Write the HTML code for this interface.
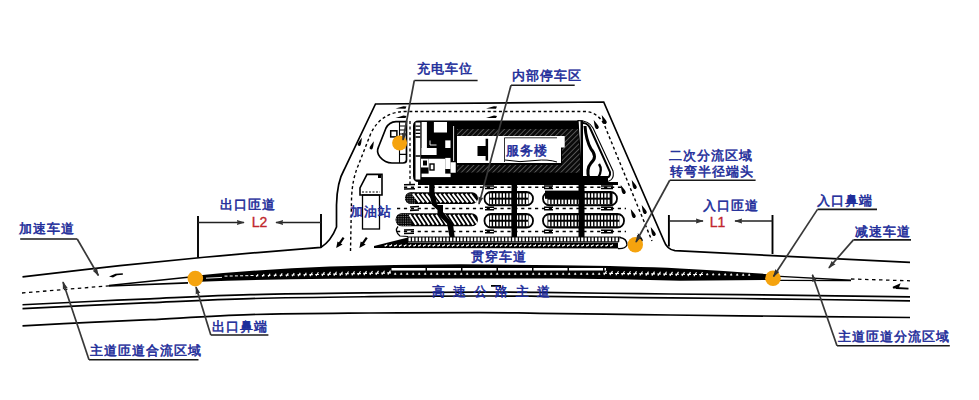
<!DOCTYPE html>
<html><head><meta charset="utf-8">
<style>
html,body{margin:0;padding:0;background:#fff;width:979px;height:400px;overflow:hidden}
svg{position:absolute;left:0;top:0}
.lb{font-family:"Liberation Sans",sans-serif;font-size:13px;fill:#1e2d9a;stroke:#1e2d9a;stroke-width:0.55px;font-weight:normal;letter-spacing:1px}
.rd{font-family:"Liberation Sans",sans-serif;font-size:14px;fill:#c0262c;stroke:#c0262c;stroke-width:0.35px}
</style></head><body>
<svg width="979" height="400" viewBox="0 0 979 400">
<defs>
<pattern id="hatch" patternUnits="userSpaceOnUse" width="3.7" height="3.7" patternTransform="rotate(45)">
<rect width="3.7" height="3.7" fill="#0a0a0a"/><rect width="0.7" height="3.7" fill="#707070"/>
</pattern>
<pattern id="xh" patternUnits="userSpaceOnUse" width="1.8" height="1.8"><rect width="1.8" height="1.8" fill="#000"/><rect width="0.8" height="0.8" fill="#aaa"/></pattern>
<marker id="ah" viewBox="0 0 10 10" refX="9" refY="5" markerWidth="8" markerHeight="6" markerUnits="userSpaceOnUse" orient="auto" preserveAspectRatio="none">
<path d="M0,0.8 L10,5 L0,9.2 L1,5 z" fill="#333"/>
</marker>
</defs>

<g fill="none" stroke="#000" stroke-width="1.7">
<path d="M22.5,276.8 C38.8,274.95 87.1,269.20 120,265.7 C152.9,262.20 186.5,258.85 220,255.8 C253.5,252.75 304.2,248.80 321,247.4 Q331,241 336.5,227 L336.5,205 Q337,182 344,170 L375.5,104 L603.7,102 L664,241 Q667,249.5 675,250.7 L910,262.4"/>
<path d="M22.5,304.75 C34.6,304.17 73.8,302.24 95,301.25 C116.2,300.26 124.2,299.89 150,298.8 C175.8,297.71 213.3,295.70 250,294.7 C286.7,293.70 331.7,293.23 370,292.8 C408.3,292.37 451.7,292.17 480,292.1 C508.3,292.03 513.3,292.13 540,292.4 C566.7,292.67 606.7,293.33 640,293.7 C673.3,294.07 695.0,294.07 740,294.6 C785.0,295.13 881.7,296.52 910,296.9"/>
<path d="M22.5,308.65 C34.6,308.07 73.8,306.14 95,305.15 C116.2,304.16 124.2,303.79 150,302.7 C175.8,301.61 213.3,299.60 250,298.59999999999997 C286.7,297.60 331.7,297.13 370,296.7 C408.3,296.27 451.7,296.07 480,296.0 C508.3,295.93 513.3,296.03 540,296.29999999999995 C566.7,296.57 606.7,297.23 640,297.59999999999997 C673.3,297.97 695.0,297.97 740,298.5 C785.0,299.03 881.7,300.42 910,300.79999999999995"/>
<path d="M22.5,325.9 C34.6,325.27 73.8,323.13 95,322.1 C116.2,321.07 124.2,320.95 150,319.7 C175.8,318.45 213.3,315.72 250,314.6 C286.7,313.48 331.7,313.33 370,313 C408.3,312.67 451.7,312.55 480,312.6 C508.3,312.65 513.3,312.97 540,313.3 C566.7,313.63 606.7,314.18 640,314.6 C673.3,315.02 695.0,315.32 740,315.8 C785.0,316.28 881.7,317.22 910,317.5"/>
<path d="M22,293 L109,285.8" stroke-dasharray="3.5 3.5" stroke-width="1.3"/>
<path d="M109,285.6 L188,277.2" stroke-width="1.5"/>
<path d="M109,286 L188,282.8" stroke-width="1.7"/>
<path d="M780,276.4 L851,280.2" stroke-width="1.4"/>
<path d="M780,280.4 L851,280.6" stroke-width="1.4"/>
<path d="M851,279 L910,280.8" stroke-dasharray="3.5 3.5" stroke-width="1.3"/>
</g>
<path d="M109,276.6 L115.5,273.8 L122.8,273.2 L122.9,274.8 L117,275.3 L113,277.4 Z" fill="#000"/>
<path d="M893,287.5 L899,285 L898,287.5 Z M896,288 L908.5,288.6" fill="#000" stroke="#000" stroke-width="1.8"/>
<path d="M491,285.8 L500,285.8 L500,288" fill="none" stroke="#000" stroke-width="1.8"/>
<path d="M190,277 L200,275.2 Q265,269 330,266.6 Q395,264.4 460,264.3 L560,265.3 Q630,266.2 680,268.4 Q730,271 772,274.5 L772,280 L680,280.7 Q620,279 560,278.6 L460,278.6 L330,278.7 Q260,279.5 200,281.8 L190,281 Z" fill="#000"/>
<g stroke="#fff"><path d="M206,278.2 L222,277.4" stroke="#fff" stroke-width="0.9"/><path d="M224.5,276.1 L227.5,276.1" stroke-width="1"/><path d="M229.7,276.0 L232.7,276.0" stroke-width="1"/><path d="M234.9,275.9 L237.9,275.9" stroke-width="1"/><path d="M240.1,275.8 L243.1,275.8" stroke-width="1"/><path d="M245.3,275.7 L248.3,275.7" stroke-width="1"/><path d="M250.5,275.5 L253.5,275.5" stroke-width="1"/><path d="M256.4,276.7 L258.0,274.2 M255.9,275.7 L258.3,275.7" stroke-width="1.1"/><path d="M262.3,276.6 L264.1,274.0 M261.9,275.6 L264.4,275.6" stroke-width="1.1"/><path d="M268.3,276.6 L270.1,273.8 M267.8,275.5 L270.4,275.5" stroke-width="1.1"/><path d="M274.3,276.5 L276.1,273.6 M273.8,275.4 L276.5,275.4" stroke-width="1.1"/><path d="M280.2,276.4 L282.2,273.4 M279.7,275.2 L282.5,275.2" stroke-width="1.1"/><path d="M286.2,276.4 L288.2,273.2 M285.6,275.1 L288.6,275.1" stroke-width="1.1"/><path d="M292.2,276.3 L294.2,273.1 M291.6,275.0 L294.7,275.0" stroke-width="1.1"/><path d="M298.1,276.2 L300.3,272.9 M297.5,274.8 L300.7,274.8" stroke-width="1.1"/><path d="M304.1,276.2 L306.3,272.7 M303.5,274.7 L306.8,274.7" stroke-width="1.1"/><path d="M310.0,276.1 L312.4,272.5 M309.4,274.6 L312.8,274.6" stroke-width="1.1"/><path d="M316.0,276.0 L318.4,272.3 M315.3,274.5 L318.9,274.5" stroke-width="1.1"/><path d="M322.0,276.0 L324.4,272.1 M321.3,274.3 L324.9,274.3" stroke-width="1.1"/><path d="M327.9,275.9 L330.5,271.9 M327.2,274.2 L331.0,274.2" stroke-width="1.1"/><path d="M333.9,275.8 L336.5,271.8 M333.2,274.1 L337.0,274.1" stroke-width="1.1"/><path d="M339.9,275.7 L342.5,271.7 M339.2,274.0 L343.0,274.0" stroke-width="1.1"/><path d="M345.9,275.5 L348.5,271.5 M345.2,273.8 L349.0,273.8" stroke-width="1.1"/><path d="M351.9,275.4 L354.5,271.4 M351.2,273.7 L355.0,273.7" stroke-width="1.1"/><path d="M357.9,275.3 L360.5,271.3 M357.2,273.6 L361.0,273.6" stroke-width="1.1"/><path d="M363.9,275.1 L366.5,271.1 M363.2,273.4 L367.0,273.4" stroke-width="1.1"/><path d="M369.9,275.0 L372.5,271.0 M369.2,273.3 L373.0,273.3" stroke-width="1.1"/><path d="M375.9,274.9 L378.5,270.9 M375.2,273.2 L379.0,273.2" stroke-width="1.1"/><path d="M381.9,274.8 L384.5,270.8 M381.2,273.1 L385.0,273.1" stroke-width="1.1"/><path d="M387.9,274.6 L390.5,270.6 M387.2,272.9 L391.0,272.9" stroke-width="1.1"/><path d="M394.3,274.4 L396.1,274.4 L395.2,272.8 Z" fill="#fff" stroke-width="0.6"/><path d="M400.3,274.4 L402.1,274.4 L401.2,272.8 Z" fill="#fff" stroke-width="0.6"/><path d="M406.3,274.4 L408.1,274.4 L407.2,272.8 Z" fill="#fff" stroke-width="0.6"/><path d="M412.3,274.4 L414.1,274.4 L413.2,272.8 Z" fill="#fff" stroke-width="0.6"/><path d="M418.3,274.4 L420.1,274.4 L419.2,272.8 Z" fill="#fff" stroke-width="0.6"/><path d="M424.3,274.4 L426.1,274.4 L425.2,272.8 Z" fill="#fff" stroke-width="0.6"/><path d="M430.3,274.4 L432.1,274.4 L431.2,272.8 Z" fill="#fff" stroke-width="0.6"/><path d="M436.3,274.4 L438.1,274.4 L437.2,272.8 Z" fill="#fff" stroke-width="0.6"/><path d="M442.3,274.4 L444.1,274.4 L443.2,272.8 Z" fill="#fff" stroke-width="0.6"/><path d="M448.3,274.4 L450.1,274.4 L449.2,272.8 Z" fill="#fff" stroke-width="0.6"/><path d="M454.3,274.4 L456.1,274.4 L455.2,272.8 Z" fill="#fff" stroke-width="0.6"/><path d="M460.3,274.4 L462.1,274.4 L461.2,272.8 Z" fill="#fff" stroke-width="0.6"/><path d="M466.3,274.4 L468.1,274.4 L467.2,272.8 Z" fill="#fff" stroke-width="0.6"/><path d="M472.3,274.4 L474.1,274.4 L473.2,272.8 Z" fill="#fff" stroke-width="0.6"/><path d="M478.3,274.4 L480.1,274.4 L479.2,272.8 Z" fill="#fff" stroke-width="0.6"/><path d="M484.3,274.4 L486.1,274.4 L485.2,272.8 Z" fill="#fff" stroke-width="0.6"/><path d="M490.3,274.4 L492.1,274.4 L491.2,272.8 Z" fill="#fff" stroke-width="0.6"/><path d="M496.3,274.4 L498.1,274.4 L497.2,272.8 Z" fill="#fff" stroke-width="0.6"/><path d="M502.3,274.4 L504.1,274.4 L503.2,272.8 Z" fill="#fff" stroke-width="0.6"/><path d="M508.3,274.4 L510.1,274.4 L509.2,272.8 Z" fill="#fff" stroke-width="0.6"/><path d="M514.3,274.4 L516.1,274.4 L515.2,272.8 Z" fill="#fff" stroke-width="0.6"/><path d="M520.3,274.4 L522.1,274.4 L521.2,272.8 Z" fill="#fff" stroke-width="0.6"/><path d="M526.3,274.4 L528.1,274.4 L527.2,272.8 Z" fill="#fff" stroke-width="0.6"/><path d="M532.3,274.4 L534.1,274.4 L533.2,272.8 Z" fill="#fff" stroke-width="0.6"/><path d="M538.3,274.4 L540.1,274.4 L539.2,272.8 Z" fill="#fff" stroke-width="0.6"/><path d="M544.3,274.4 L546.1,274.4 L545.2,272.8 Z" fill="#fff" stroke-width="0.6"/><path d="M550.3,274.4 L552.1,274.4 L551.2,272.8 Z" fill="#fff" stroke-width="0.6"/><path d="M556.3,274.4 L558.1,274.4 L557.2,272.8 Z" fill="#fff" stroke-width="0.6"/><path d="M562.3,274.4 L564.1,274.4 L563.2,272.8 Z" fill="#fff" stroke-width="0.6"/><path d="M568.3,274.4 L570.1,274.4 L569.2,272.8 Z" fill="#fff" stroke-width="0.6"/><path d="M574.3,274.4 L576.1,274.4 L575.2,272.8 Z" fill="#fff" stroke-width="0.6"/><path d="M580.3,274.4 L582.1,274.4 L581.2,272.8 Z" fill="#fff" stroke-width="0.6"/><path d="M586.3,274.4 L588.1,274.4 L587.2,272.8 Z" fill="#fff" stroke-width="0.6"/><path d="M592.3,274.4 L594.1,274.4 L593.2,272.8 Z" fill="#fff" stroke-width="0.6"/><path d="M598.3,274.4 L600.1,274.4 L599.2,272.8 Z" fill="#fff" stroke-width="0.6"/><path d="M603.9,275.0 L606.5,271.0 M603.2,273.3 L607.0,273.3" stroke-width="1.1"/><path d="M609.9,275.1 L612.5,271.1 M609.2,273.4 L613.0,273.4" stroke-width="1.1"/><path d="M615.9,275.2 L618.5,271.2 M615.2,273.5 L619.0,273.5" stroke-width="1.1"/><path d="M621.9,275.3 L624.5,271.3 M621.2,273.6 L625.0,273.6" stroke-width="1.1"/><path d="M627.9,275.3 L630.5,271.3 M627.2,273.6 L631.0,273.6" stroke-width="1.1"/><path d="M633.9,275.4 L636.5,271.4 M633.2,273.7 L637.0,273.7" stroke-width="1.1"/><path d="M639.9,275.5 L642.5,271.5 M639.2,273.8 L643.0,273.8" stroke-width="1.1"/><path d="M645.9,275.6 L648.5,271.6 M645.2,273.9 L649.0,273.9" stroke-width="1.1"/><path d="M651.9,275.6 L654.5,271.6 M651.2,273.9 L655.0,273.9" stroke-width="1.1"/><path d="M657.9,275.7 L660.5,271.7 M657.2,274.0 L661.0,274.0" stroke-width="1.1"/><path d="M663.9,275.8 L666.5,271.8 M663.2,274.1 L667.0,274.1" stroke-width="1.1"/><path d="M669.9,275.9 L672.5,271.9 M669.2,274.2 L673.0,274.2" stroke-width="1.1"/><path d="M675.9,275.9 L678.5,271.9 M675.2,274.2 L679.0,274.2" stroke-width="1.1"/><path d="M681.9,276.0 L684.5,272.0 M681.2,274.3 L685.0,274.3" stroke-width="1.1"/><path d="M687.9,276.1 L690.5,272.1 M687.2,274.4 L691.0,274.4" stroke-width="1.1"/><path d="M693.9,276.2 L696.5,272.2 M693.2,274.5 L697.0,274.5" stroke-width="1.1"/><path d="M699.9,276.2 L702.5,272.2 M699.2,274.5 L703.0,274.5" stroke-width="1.1"/><path d="M706.3,274.9 L708.1,274.9 L707.2,273.3 Z" fill="#fff" stroke-width="0.6"/><path d="M712.3,275.0 L714.1,275.0 L713.2,273.4 Z" fill="#fff" stroke-width="0.6"/><path d="M718.3,275.1 L720.1,275.1 L719.2,273.5 Z" fill="#fff" stroke-width="0.6"/><path d="M724.3,275.1 L726.1,275.1 L725.2,273.5 Z" fill="#fff" stroke-width="0.6"/><path d="M730.3,275.2 L732.1,275.2 L731.2,273.6 Z" fill="#fff" stroke-width="0.6"/><path d="M736.3,275.3 L738.1,275.3 L737.2,273.7 Z" fill="#fff" stroke-width="0.6"/><path d="M742.3,275.4 L744.1,275.4 L743.2,273.8 Z" fill="#fff" stroke-width="0.6"/><path d="M748.3,275.4 L750.1,275.4 L749.2,273.8 Z" fill="#fff" stroke-width="0.6"/></g>
<path d="M391.5,269.3 L606,269.3" stroke="#fff" stroke-width="2.6" stroke-dasharray="34 1.5"/>
<g fill="none" stroke="#000" stroke-width="1.4" stroke-dasharray="3 2.6">
<path d="M350.5,251 L351.5,200 Q352,180 358,166 L371,133 Q382,111 407,111.5 L585,111.5 Q597,112 604,124 L652,241"/>
</g>
<path d="M0,-5 C0.8,-2.5 1.8,0.5 1.8,2 A1.8,1.8 0 0 1 -1.8,2 C-1.8,0.5 -0.8,-2.5 0,-5 Z" transform="translate(596 125) rotate(-24) scale(1.00 1.12)" fill="#000"/>
<path d="M0,-5 C0.8,-2.5 1.8,0.5 1.8,2 A1.8,1.8 0 0 1 -1.8,2 C-1.8,0.5 -0.8,-2.5 0,-5 Z" transform="translate(604 120) rotate(-24) scale(1.00 1.12)" fill="#000"/>
<path d="M0,-5 C0.8,-2.5 1.8,0.5 1.8,2 A1.8,1.8 0 0 1 -1.8,2 C-1.8,0.5 -0.8,-2.5 0,-5 Z" transform="translate(623 190) rotate(-24) scale(1.00 1.12)" fill="#000"/>
<path d="M0,-5 C0.8,-2.5 1.8,0.5 1.8,2 A1.8,1.8 0 0 1 -1.8,2 C-1.8,0.5 -0.8,-2.5 0,-5 Z" transform="translate(634 185) rotate(-24) scale(1.00 1.12)" fill="#000"/>
<path d="M0,-5 C0.8,-2.5 1.8,0.5 1.8,2 A1.8,1.8 0 0 1 -1.8,2 C-1.8,0.5 -0.8,-2.5 0,-5 Z" transform="translate(633 214) rotate(-24) scale(1.00 1.12)" fill="#000"/>
<path d="M0,-5 C0.8,-2.5 1.8,0.5 1.8,2 A1.8,1.8 0 0 1 -1.8,2 C-1.8,0.5 -0.8,-2.5 0,-5 Z" transform="translate(644 210) rotate(-24) scale(1.00 1.12)" fill="#000"/>
<path d="M0,-5 C0.8,-2.5 1.8,0.5 1.8,2 A1.8,1.8 0 0 1 -1.8,2 C-1.8,0.5 -0.8,-2.5 0,-5 Z" transform="translate(640 238) rotate(-24) scale(1.00 1.12)" fill="#000"/>
<path d="M0,-5 C0.8,-2.5 1.8,0.5 1.8,2 A1.8,1.8 0 0 1 -1.8,2 C-1.8,0.5 -0.8,-2.5 0,-5 Z" transform="translate(653 232) rotate(-24) scale(1.00 1.12)" fill="#000"/>
<path d="M395.5,108.6 L403.5,106.2 L406.5,106.6 L405.5,108.7 Z" fill="#000"/>
<path d="M395.5,118.0 L403.5,115.60000000000001 L406.5,116.0 L405.5,118.10000000000001 Z" fill="#000"/>
<path d="M486,108.6 L494,106.2 L497,106.6 L496,108.7 Z" fill="#000"/>
<path d="M486,118.0 L494,115.60000000000001 L497,116.0 L496,118.10000000000001 Z" fill="#000"/>
<path d="M0,-5 C0.8,-2.5 1.8,0.5 1.8,2 A1.8,1.8 0 0 1 -1.8,2 C-1.8,0.5 -0.8,-2.5 0,-5 Z" transform="translate(360 142.3) rotate(22) scale(0.89 1.00)" fill="#000"/><path d="M0,-5 C0.8,-2.5 1.8,0.5 1.8,2 A1.8,1.8 0 0 1 -1.8,2 C-1.8,0.5 -0.8,-2.5 0,-5 Z" transform="translate(372 145.8) rotate(22) scale(0.89 1.00)" fill="#000"/>
<path d="M343.6,237.6 L339.5,243.5" stroke="#000" stroke-width="2.2"/><path d="M336.2,248 L337.5,241.5 L342.5,244.5 Z" fill="#000"/>
<path d="M366.8,237.6 L362.7,243.5" stroke="#000" stroke-width="2.2"/><path d="M359.4,248 L360.7,241.5 L365.7,244.5 Z" fill="#000"/>
<path d="M396,121.6 L406.5,121.6 L406.5,160 Q406.5,163 403,163 L392,163 Q385,163 380,157 Q376,152 378.5,147 L386,128 Q389,122 396,121.6 Z" fill="#fff" stroke="#000" stroke-width="1.7"/>
<rect x="390.7" y="130.8" width="6.2" height="6.1" fill="#fff" stroke="#000" stroke-width="1.5"/>
<path d="M399.5,122 L399.5,163 M399.5,126 L406,126 M399.5,130 L406,130 M399.5,134 L406,134 M399.5,154.4 L406,154.4" stroke="#000" stroke-width="1.1"/>
<path d="M410,121 L410,186" stroke="#000" stroke-width="1.3" stroke-dasharray="3 2.5"/>
<path d="M418.5,120.5 L582,120.5 L582,182 L418.5,182 Q413,182 413,176 L413,126 Q413,120.5 418.5,120.5 Z" fill="#000"/>
<rect x="457" y="129" width="123" height="7" fill="url(#hatch)"/>
<rect x="562" y="129" width="18" height="43.5" fill="url(#hatch)"/>
<rect x="457" y="165" width="123" height="7.5" fill="url(#hatch)"/>
<rect x="457" y="136" width="107.7" height="11.5" fill="#fff"/><rect x="457" y="136" width="104" height="27" fill="#fff"/>
<rect x="477.5" y="146" width="10.5" height="10" fill="#000"/><rect x="485.6" y="138.75" width="2.5" height="21.9" fill="#000"/>
<path d="M504.5,162 L504.5,137.8 L557,137.8" fill="none" stroke="#000" stroke-width="0.8"/>
<path d="M505,160 Q520,163 535,160.5 Q548,159 557,162" fill="none" stroke="#000" stroke-width="1"/>
<rect x="415.5" y="122.5" width="4.8" height="57" fill="#fff"/>
<rect x="421.6" y="122" width="5.3" height="33" fill="#fff"/>
<rect x="421.6" y="148" width="15" height="7" fill="#fff"/>
<rect x="433.9" y="122" width="13.1" height="10.5" fill="#fff"/>
<rect x="445.25" y="140.4" width="5.25" height="7.6" fill="#fff"/>
<rect x="421" y="158.75" width="7.6" height="8.7" fill="#fff"/>
<rect x="428.6" y="158.75" width="16.6" height="15.75" fill="#fff"/>
<rect x="445.25" y="157.9" width="5.25" height="11.1" fill="#fff"/>
<rect x="450.5" y="162.25" width="5.25" height="10.5" fill="#fff"/>
<rect x="421.6" y="173.6" width="29" height="3.5" fill="#fff"/>
<path d="M415.5,126.2 L420.3,126.2 M415.5,130 L420.3,130 M415.5,133.3 L420.3,133.3 M415.5,137 L420.3,137 M415.5,156 L420.3,156" stroke="#000" stroke-width="1.3"/>
<rect x="423" y="160.5" width="4" height="5" fill="#000"/><rect x="430" y="164" width="4" height="6" fill="none" stroke="#000" stroke-width="1.4"/>
<path d="M453.6,126 L453.6,161" stroke="#fff" stroke-width="0.9"/>
<path d="M430,140.5 L430,145 L436.5,145" fill="none" stroke="#fff" stroke-width="0.9"/>
<path d="M578,120.5 Q589,120.5 593,128 L613,171 Q615,181 605,182 L582,182 Z" fill="#fff" stroke="#000" stroke-width="1.1"/>
<path d="M583,123 Q588,123 590.5,129 L610,172 Q611,178 604,178.5 L583,178.5" fill="none" stroke="#000" stroke-width="2"/>
<path d="M585,126 Q586,140 591,149 Q598,157 591,163 Q586,169 589,179" fill="none" stroke="#000" stroke-width="3"/>
<path d="M599,164 Q603,170 598,178" fill="none" stroke="#000" stroke-width="2.4"/>
<rect x="580.5" y="120.5" width="2.5" height="61.5" fill="#000"/>
<rect x="583" y="176" width="25" height="6" fill="#000"/>
<g stroke="#000" stroke-width="1.4" stroke-dasharray="3.2 3.7" fill="none"><path d="M404,187.3 L622,187.3"/><path d="M397,208.5 L626,208.5"/><path d="M397,231.5 L626,231.5"/></g>
<rect x="418" y="182" width="200" height="3" fill="#000"/>
<clipPath id="c1"><rect x="405" y="192.3" width="73" height="11.699999999999989" rx="5.849999999999994"/></clipPath><rect x="405" y="192.3" width="73" height="11.699999999999989" rx="5.849999999999994" fill="#000"/><rect x="405" y="192.3" width="10" height="11.699999999999989" fill="url(#xh)" clip-path="url(#c1)"/><path d="M413.0,193.9 L419.5,202.4 M417.4,193.9 L423.9,202.4 M421.8,193.9 L428.3,202.4 M426.2,193.9 L432.7,202.4 M430.6,193.9 L437.1,202.4 M435.0,193.9 L441.5,202.4 M439.4,193.9 L445.9,202.4 M443.8,193.9 L450.3,202.4 M448.2,193.9 L454.7,202.4 M452.6,193.9 L459.1,202.4 M457.0,193.9 L463.5,202.4 M461.4,193.9 L467.9,202.4 M465.8,193.9 L472.3,202.4 M470.2,193.9 L476.7,202.4" stroke="#fff" stroke-width="2" clip-path="url(#c1)"/>
<clipPath id="c2"><rect x="395.6" y="213.2" width="82.39999999999998" height="13.100000000000023" rx="6.550000000000011"/></clipPath><rect x="395.6" y="213.2" width="82.39999999999998" height="13.100000000000023" rx="6.550000000000011" fill="#000"/><rect x="395.6" y="213.2" width="16" height="13.100000000000023" fill="url(#xh)" clip-path="url(#c2)"/><path d="M409.6,214.79999999999998 L416.1,224.70000000000002 M414.0,214.79999999999998 L420.5,224.70000000000002 M418.4,214.79999999999998 L424.9,224.70000000000002 M422.8,214.79999999999998 L429.3,224.70000000000002 M427.2,214.79999999999998 L433.7,224.70000000000002 M431.6,214.79999999999998 L438.1,224.70000000000002 M436.0,214.79999999999998 L442.5,224.70000000000002 M440.4,214.79999999999998 L446.9,224.70000000000002 M444.8,214.79999999999998 L451.3,224.70000000000002 M449.2,214.79999999999998 L455.7,224.70000000000002 M453.6,214.79999999999998 L460.1,224.70000000000002 M458.0,214.79999999999998 L464.5,224.70000000000002 M462.4,214.79999999999998 L468.9,224.70000000000002 M466.8,214.79999999999998 L473.3,224.70000000000002 M471.2,214.79999999999998 L477.7,224.70000000000002" stroke="#fff" stroke-width="2" clip-path="url(#c2)"/>
<rect x="484.5" y="192" width="48.5" height="13.300000000000011" rx="6.5" fill="#fff" stroke="#000" stroke-width="1.8"/><rect x="489.0" y="192.6" width="39.5" height="12.100000000000012" fill="#000"/><g fill="#fff"><rect x="489.80" y="193.30" width="1.9" height="4.35"/><rect x="493.10" y="193.30" width="1.9" height="4.35"/><rect x="496.40" y="193.30" width="1.9" height="4.35"/><rect x="499.70" y="193.30" width="1.9" height="4.35"/><rect x="503.00" y="193.30" width="1.9" height="4.35"/><rect x="506.30" y="193.30" width="1.9" height="4.35"/><rect x="509.60" y="193.30" width="1.9" height="4.35"/><rect x="512.90" y="193.30" width="1.9" height="4.35"/><rect x="516.20" y="193.30" width="1.9" height="4.35"/><rect x="519.50" y="193.30" width="1.9" height="4.35"/><rect x="522.80" y="193.30" width="1.9" height="4.35"/><rect x="526.10" y="193.30" width="1.9" height="4.35"/><rect x="489.80" y="199.65" width="1.9" height="4.35"/><rect x="493.10" y="199.65" width="1.9" height="4.35"/><rect x="496.40" y="199.65" width="1.9" height="4.35"/><rect x="499.70" y="199.65" width="1.9" height="4.35"/><rect x="503.00" y="199.65" width="1.9" height="4.35"/><rect x="506.30" y="199.65" width="1.9" height="4.35"/><rect x="509.60" y="199.65" width="1.9" height="4.35"/><rect x="512.90" y="199.65" width="1.9" height="4.35"/><rect x="516.20" y="199.65" width="1.9" height="4.35"/><rect x="519.50" y="199.65" width="1.9" height="4.35"/><rect x="522.80" y="199.65" width="1.9" height="4.35"/><rect x="526.10" y="199.65" width="1.9" height="4.35"/></g>
<rect x="543" y="192" width="74" height="13.300000000000011" rx="6.5" fill="#fff" stroke="#000" stroke-width="1.8"/><rect x="547.5" y="192.6" width="65.0" height="12.100000000000012" fill="#000"/><g fill="#fff"><rect x="548.30" y="193.30" width="1.9" height="4.35"/><rect x="551.60" y="193.30" width="1.9" height="4.35"/><rect x="554.90" y="193.30" width="1.9" height="4.35"/><rect x="558.20" y="193.30" width="1.9" height="4.35"/><rect x="561.50" y="193.30" width="1.9" height="4.35"/><rect x="564.80" y="193.30" width="1.9" height="4.35"/><rect x="568.10" y="193.30" width="1.9" height="4.35"/><rect x="571.40" y="193.30" width="1.9" height="4.35"/><rect x="574.70" y="193.30" width="1.9" height="4.35"/><rect x="578.00" y="193.30" width="1.9" height="4.35"/><rect x="581.30" y="193.30" width="1.9" height="4.35"/><rect x="584.60" y="193.30" width="1.9" height="4.35"/><rect x="587.90" y="193.30" width="1.9" height="4.35"/><rect x="591.20" y="193.30" width="1.9" height="4.35"/><rect x="594.50" y="193.30" width="1.9" height="4.35"/><rect x="597.80" y="193.30" width="1.9" height="4.35"/><rect x="601.10" y="193.30" width="1.9" height="4.35"/><rect x="604.40" y="193.30" width="1.9" height="4.35"/><rect x="607.70" y="193.30" width="1.9" height="4.35"/><rect x="548.30" y="199.65" width="1.9" height="4.35"/><rect x="551.60" y="199.65" width="1.9" height="4.35"/><rect x="554.90" y="199.65" width="1.9" height="4.35"/><rect x="558.20" y="199.65" width="1.9" height="4.35"/><rect x="561.50" y="199.65" width="1.9" height="4.35"/><rect x="564.80" y="199.65" width="1.9" height="4.35"/><rect x="568.10" y="199.65" width="1.9" height="4.35"/><rect x="571.40" y="199.65" width="1.9" height="4.35"/><rect x="574.70" y="199.65" width="1.9" height="4.35"/><rect x="578.00" y="199.65" width="1.9" height="4.35"/><rect x="581.30" y="199.65" width="1.9" height="4.35"/><rect x="584.60" y="199.65" width="1.9" height="4.35"/><rect x="587.90" y="199.65" width="1.9" height="4.35"/><rect x="591.20" y="199.65" width="1.9" height="4.35"/><rect x="594.50" y="199.65" width="1.9" height="4.35"/><rect x="597.80" y="199.65" width="1.9" height="4.35"/><rect x="601.10" y="199.65" width="1.9" height="4.35"/><rect x="604.40" y="199.65" width="1.9" height="4.35"/><rect x="607.70" y="199.65" width="1.9" height="4.35"/></g>
<rect x="484.5" y="214" width="48.5" height="13.5" rx="6.5" fill="#fff" stroke="#000" stroke-width="1.8"/><rect x="489.0" y="214.6" width="39.5" height="12.3" fill="#000"/><g fill="#fff"><rect x="489.80" y="215.30" width="1.9" height="4.45"/><rect x="493.10" y="215.30" width="1.9" height="4.45"/><rect x="496.40" y="215.30" width="1.9" height="4.45"/><rect x="499.70" y="215.30" width="1.9" height="4.45"/><rect x="503.00" y="215.30" width="1.9" height="4.45"/><rect x="506.30" y="215.30" width="1.9" height="4.45"/><rect x="509.60" y="215.30" width="1.9" height="4.45"/><rect x="512.90" y="215.30" width="1.9" height="4.45"/><rect x="516.20" y="215.30" width="1.9" height="4.45"/><rect x="519.50" y="215.30" width="1.9" height="4.45"/><rect x="522.80" y="215.30" width="1.9" height="4.45"/><rect x="526.10" y="215.30" width="1.9" height="4.45"/><rect x="489.80" y="221.75" width="1.9" height="4.45"/><rect x="493.10" y="221.75" width="1.9" height="4.45"/><rect x="496.40" y="221.75" width="1.9" height="4.45"/><rect x="499.70" y="221.75" width="1.9" height="4.45"/><rect x="503.00" y="221.75" width="1.9" height="4.45"/><rect x="506.30" y="221.75" width="1.9" height="4.45"/><rect x="509.60" y="221.75" width="1.9" height="4.45"/><rect x="512.90" y="221.75" width="1.9" height="4.45"/><rect x="516.20" y="221.75" width="1.9" height="4.45"/><rect x="519.50" y="221.75" width="1.9" height="4.45"/><rect x="522.80" y="221.75" width="1.9" height="4.45"/><rect x="526.10" y="221.75" width="1.9" height="4.45"/></g>
<rect x="543" y="214" width="81" height="13.5" rx="6.5" fill="#fff" stroke="#000" stroke-width="1.8"/><rect x="547.5" y="214.6" width="72.0" height="12.3" fill="#000"/><g fill="#fff"><rect x="548.30" y="215.30" width="1.9" height="4.45"/><rect x="551.60" y="215.30" width="1.9" height="4.45"/><rect x="554.90" y="215.30" width="1.9" height="4.45"/><rect x="558.20" y="215.30" width="1.9" height="4.45"/><rect x="561.50" y="215.30" width="1.9" height="4.45"/><rect x="564.80" y="215.30" width="1.9" height="4.45"/><rect x="568.10" y="215.30" width="1.9" height="4.45"/><rect x="571.40" y="215.30" width="1.9" height="4.45"/><rect x="574.70" y="215.30" width="1.9" height="4.45"/><rect x="578.00" y="215.30" width="1.9" height="4.45"/><rect x="581.30" y="215.30" width="1.9" height="4.45"/><rect x="584.60" y="215.30" width="1.9" height="4.45"/><rect x="587.90" y="215.30" width="1.9" height="4.45"/><rect x="591.20" y="215.30" width="1.9" height="4.45"/><rect x="594.50" y="215.30" width="1.9" height="4.45"/><rect x="597.80" y="215.30" width="1.9" height="4.45"/><rect x="601.10" y="215.30" width="1.9" height="4.45"/><rect x="604.40" y="215.30" width="1.9" height="4.45"/><rect x="607.70" y="215.30" width="1.9" height="4.45"/><rect x="611.00" y="215.30" width="1.9" height="4.45"/><rect x="614.30" y="215.30" width="1.9" height="4.45"/><rect x="617.60" y="215.30" width="1.9" height="4.45"/><rect x="548.30" y="221.75" width="1.9" height="4.45"/><rect x="551.60" y="221.75" width="1.9" height="4.45"/><rect x="554.90" y="221.75" width="1.9" height="4.45"/><rect x="558.20" y="221.75" width="1.9" height="4.45"/><rect x="561.50" y="221.75" width="1.9" height="4.45"/><rect x="564.80" y="221.75" width="1.9" height="4.45"/><rect x="568.10" y="221.75" width="1.9" height="4.45"/><rect x="571.40" y="221.75" width="1.9" height="4.45"/><rect x="574.70" y="221.75" width="1.9" height="4.45"/><rect x="578.00" y="221.75" width="1.9" height="4.45"/><rect x="581.30" y="221.75" width="1.9" height="4.45"/><rect x="584.60" y="221.75" width="1.9" height="4.45"/><rect x="587.90" y="221.75" width="1.9" height="4.45"/><rect x="591.20" y="221.75" width="1.9" height="4.45"/><rect x="594.50" y="221.75" width="1.9" height="4.45"/><rect x="597.80" y="221.75" width="1.9" height="4.45"/><rect x="601.10" y="221.75" width="1.9" height="4.45"/><rect x="604.40" y="221.75" width="1.9" height="4.45"/><rect x="607.70" y="221.75" width="1.9" height="4.45"/><rect x="611.00" y="221.75" width="1.9" height="4.45"/><rect x="614.30" y="221.75" width="1.9" height="4.45"/><rect x="617.60" y="221.75" width="1.9" height="4.45"/></g>
<rect x="545" y="190.6" width="35" height="8.2" fill="#000"/>
<path d="M429.2,182 L434.5,182 L434.5,193 L437.5,205 L443,205 L443,212 L453,224 L454.7,237 L449.5,237 L447.2,224 L437.5,214 L437.5,210 L432,205 L429.2,193 Z" fill="#000"/>
<rect x="511.5" y="182" width="5.5" height="55.5" fill="#000"/>
<rect x="578.5" y="182" width="6" height="55.5" fill="#000"/>
<path d="M404,184.8 L415,184.5 M404,189 L415,188.7 M410,207 L419,206.5 M410,210.4 L419,210 M404,230 L414,229.8 M404,233.5 L414,233.2" stroke="#000" stroke-width="1.6"/>
<path d="M398,226.5 Q394,231 400,236 L408,236.5" fill="none" stroke="#000" stroke-width="1.2"/>
<path d="M485,186.0 L494,186.0 M485,188.60000000000002 L494,188.60000000000002 M485,207.2 L494,207.2 M485,209.8 L494,209.8 M485,230.2 L494,230.2 M485,232.8 L494,232.8 M544,186.0 L553,186.0 M544,188.60000000000002 L553,188.60000000000002 M544,207.2 L553,207.2 M544,209.8 L553,209.8 M544,230.2 L553,230.2 M544,232.8 L553,232.8 M601,186.0 L613,186.0 M601,188.60000000000002 L613,188.60000000000002 M601,207.2 L613,207.2 M601,209.8 L613,209.8 M601,230.2 L613,230.2 M601,232.8 L613,232.8" stroke="#000" stroke-width="1.5"/>
<rect x="408" y="237" width="212" height="4.800000000000011" fill="#fff" stroke="#000" stroke-width="1"/><path d="M411.4,237 L411.4,241.8 M414.9,237 L414.9,241.8 M418.3,237 L418.3,241.8 M421.8,237 L421.8,241.8 M425.2,237 L425.2,241.8 M428.7,237 L428.7,241.8 M432.1,237 L432.1,241.8 M435.6,237 L435.6,241.8 M439.0,237 L439.0,241.8 M442.5,237 L442.5,241.8 M445.9,237 L445.9,241.8 M449.4,237 L449.4,241.8 M452.8,237 L452.8,241.8 M456.3,237 L456.3,241.8 M459.7,237 L459.7,241.8 M463.2,237 L463.2,241.8 M466.6,237 L466.6,241.8 M470.1,237 L470.1,241.8 M473.5,237 L473.5,241.8 M477.0,237 L477.0,241.8 M480.4,237 L480.4,241.8 M483.9,237 L483.9,241.8 M487.3,237 L487.3,241.8 M490.8,237 L490.8,241.8 M494.2,237 L494.2,241.8 M497.7,237 L497.7,241.8 M501.1,237 L501.1,241.8 M504.6,237 L504.6,241.8 M508.0,237 L508.0,241.8 M511.5,237 L511.5,241.8 M514.9,237 L514.9,241.8 M518.4,237 L518.4,241.8 M521.8,237 L521.8,241.8 M525.3,237 L525.3,241.8 M528.7,237 L528.7,241.8 M532.2,237 L532.2,241.8 M535.6,237 L535.6,241.8 M539.1,237 L539.1,241.8 M542.6,237 L542.6,241.8 M546.0,237 L546.0,241.8 M549.5,237 L549.5,241.8 M552.9,237 L552.9,241.8 M556.4,237 L556.4,241.8 M559.8,237 L559.8,241.8 M563.3,237 L563.3,241.8 M566.7,237 L566.7,241.8 M570.2,237 L570.2,241.8 M573.6,237 L573.6,241.8 M577.1,237 L577.1,241.8 M580.5,237 L580.5,241.8 M584.0,237 L584.0,241.8 M587.4,237 L587.4,241.8 M590.9,237 L590.9,241.8 M594.3,237 L594.3,241.8 M597.8,237 L597.8,241.8 M601.2,237 L601.2,241.8 M604.7,237 L604.7,241.8 M608.1,237 L608.1,241.8 M611.6,237 L611.6,241.8 M615.0,237 L615.0,241.8 M618.5,237 L618.5,241.8" stroke="#000" stroke-width="1.3"/>
<path d="M620,237.5 Q627,238.5 627,245 Q625,249 618,248.5" fill="#fff" stroke="#000" stroke-width="1.3"/>
<path d="M374,246 L408,237.5 L408,242.5 L618,242.5 L618,248.5 L374,248 Z" fill="#000"/>
<path d="M385.0,246.8 L387.0,244.2 M384.5,245.5 L387.2,245.5 M389.8,246.8 L391.8,244.2 M389.3,245.5 L392.0,245.5 M394.6,246.8 L396.6,244.2 M394.1,245.5 L396.8,245.5 M399.4,246.8 L401.4,244.2 M398.9,245.5 L401.6,245.5 M404.2,246.8 L406.2,244.2 M403.7,245.5 L406.4,245.5 M409.0,246.8 L411.0,244.2 M408.5,245.5 L411.2,245.5 M413.8,246.8 L415.8,244.2 M413.3,245.5 L416.0,245.5 M418.6,246.8 L420.6,244.2 M418.1,245.5 L420.8,245.5 M423.4,246.8 L425.4,244.2 M422.9,245.5 L425.6,245.5 M428.2,246.8 L430.2,244.2 M427.7,245.5 L430.4,245.5 M433.0,246.8 L435.0,244.2 M432.5,245.5 L435.2,245.5 M437.8,246.8 L439.8,244.2 M437.3,245.5 L440.0,245.5 M442.6,246.8 L444.6,244.2 M442.1,245.5 L444.8,245.5 M447.4,246.8 L449.4,244.2 M446.9,245.5 L449.6,245.5 M452.2,246.8 L454.2,244.2 M451.7,245.5 L454.4,245.5 M457.0,246.8 L459.0,244.2 M456.5,245.5 L459.2,245.5 M461.8,246.8 L463.8,244.2 M461.3,245.5 L464.0,245.5 M466.6,246.8 L468.6,244.2 M466.1,245.5 L468.8,245.5 M471.4,246.8 L473.4,244.2 M470.9,245.5 L473.6,245.5 M476.2,246.8 L478.2,244.2 M475.7,245.5 L478.4,245.5 M481.0,246.8 L483.0,244.2 M480.5,245.5 L483.2,245.5 M485.8,246.8 L487.8,244.2 M485.3,245.5 L488.0,245.5 M490.6,246.8 L492.6,244.2 M490.1,245.5 L492.8,245.5 M495.4,246.8 L497.4,244.2 M494.9,245.5 L497.6,245.5 M500.2,246.8 L502.2,244.2 M499.7,245.5 L502.4,245.5 M505.0,246.8 L507.0,244.2 M504.5,245.5 L507.2,245.5 M509.8,246.8 L511.8,244.2 M509.3,245.5 L512.0,245.5 M514.6,246.8 L516.6,244.2 M514.1,245.5 L516.8,245.5 M519.4,246.8 L521.4,244.2 M518.9,245.5 L521.6,245.5 M524.2,246.8 L526.2,244.2 M523.7,245.5 L526.4,245.5 M529.0,246.8 L531.0,244.2 M528.5,245.5 L531.2,245.5 M533.8,246.8 L535.8,244.2 M533.3,245.5 L536.0,245.5 M538.6,246.8 L540.6,244.2 M538.1,245.5 L540.8,245.5 M543.4,246.8 L545.4,244.2 M542.9,245.5 L545.6,245.5 M548.2,246.8 L550.2,244.2 M547.7,245.5 L550.4,245.5 M553.0,246.8 L555.0,244.2 M552.5,245.5 L555.2,245.5 M557.8,246.8 L559.8,244.2 M557.3,245.5 L560.0,245.5 M562.6,246.8 L564.6,244.2 M562.1,245.5 L564.8,245.5 M567.4,246.8 L569.4,244.2 M566.9,245.5 L569.6,245.5 M572.2,246.8 L574.2,244.2 M571.7,245.5 L574.4,245.5 M577.0,246.8 L579.0,244.2 M576.5,245.5 L579.2,245.5 M581.8,246.8 L583.8,244.2 M581.3,245.5 L584.0,245.5 M586.6,246.8 L588.6,244.2 M586.1,245.5 L588.8,245.5 M591.4,246.8 L593.4,244.2 M590.9,245.5 L593.6,245.5 M596.2,246.8 L598.2,244.2 M595.7,245.5 L598.4,245.5 M601.0,246.8 L603.0,244.2 M600.5,245.5 L603.2,245.5 M605.8,246.8 L607.8,244.2 M605.3,245.5 L608.0,245.5 M610.6,246.8 L612.6,244.2 M610.1,245.5 L612.8,245.5" stroke="#fff" stroke-width="0.9"/>
<path d="M367,174.4 L382,174.4 L382,195 L360,195 L360,188 Z" fill="#fff" stroke="#000" stroke-width="1.6"/>
<path d="M362,192 L380,192" stroke="#000" stroke-width="1" stroke-dasharray="2 1.5"/><rect x="378" y="175" width="3" height="3" fill="#000"/>
<rect x="362.5" y="195" width="17" height="34" fill="none" stroke="#000" stroke-width="1.3"/>
<g stroke="#000" stroke-width="1.9"><path d="M198,216 L198,257.6"/><path d="M321,214 L321,247.4"/>
<path d="M668.9,215 L668.9,246.5"/><path d="M772.5,215 L772.5,254"/></g>
<g stroke="#222" stroke-width="1.5" fill="none">
<path d="M198,222.5 L244,222.5" marker-end="url(#ah)"/><path d="M321,222.5 L276,222.5" marker-end="url(#ah)"/>
<path d="M669,221 L703,221" marker-end="url(#ah)"/><path d="M772.5,221 L735,221" marker-end="url(#ah)"/>
</g>
<g fill="#f5a30e"><circle cx="195.3" cy="278.6" r="7.8"/><circle cx="773" cy="278.2" r="7.8"/><circle cx="635.3" cy="244.8" r="7.7"/><circle cx="399.6" cy="143" r="7.5"/></g>
<g fill="none">
<path d="M477.6,80.5 L414.3,80.5" stroke="#1a1a1a" stroke-width="1.6"/>
<path d="M414.3,80.5 L403,140" stroke="#383838" stroke-width="1.7" marker-end="url(#ah)"/>
<path d="M574.7,85.2 L511,85.2" stroke="#1a1a1a" stroke-width="1.6"/>
<path d="M511,85.2 L479,204" stroke="#383838" stroke-width="1.7" marker-end="url(#ah)"/>
<path d="M20.2,239 L77.2,239" stroke="#1a1a1a" stroke-width="1.6"/>
<path d="M77.2,239 L98.4,275.5" stroke="#383838" stroke-width="1.7" marker-end="url(#ah)"/>
<path d="M198.5,359.8 L89,359.8" stroke="#1a1a1a" stroke-width="1.6"/>
<path d="M89,359.8 L63,282" stroke="#383838" stroke-width="1.7" marker-end="url(#ah)"/>
<path d="M268.4,335 L210.8,335" stroke="#1a1a1a" stroke-width="1.6"/>
<path d="M210.8,335 L196,287" stroke="#383838" stroke-width="1.7" marker-end="url(#ah)"/>
<path d="M755.6,180.25 L669.75,180.25" stroke="#1a1a1a" stroke-width="1.6"/>
<path d="M669.75,180.25 L636,242" stroke="#383838" stroke-width="1.7" marker-end="url(#ah)"/>
<path d="M877,209.4 L817.5,209.4" stroke="#1a1a1a" stroke-width="1.6"/>
<path d="M817.5,209.4 L773.5,276.5" stroke="#383838" stroke-width="1.7" marker-end="url(#ah)"/>
<path d="M911,239.85 L853.4,239.85" stroke="#1a1a1a" stroke-width="1.6"/>
<path d="M853.4,239.85 L828.9,267.9" stroke="#383838" stroke-width="1.7" marker-end="url(#ah)"/>
<path d="M949.8,345.7 L837,345.7" stroke="#1a1a1a" stroke-width="1.6"/>
<path d="M837,345.7 L812.4,274.7" stroke="#383838" stroke-width="1.7" marker-end="url(#ah)"/>
</g>
<g transform="translate(-0.3,-0.6)"><text class="lb" x="417.5" y="73.5">充电车位</text>
<text class="lb" x="512.5" y="80.5">内部停车区</text>
<text class="lb" x="19.5" y="233.5">加速车道</text>
<text class="lb" x="220.5" y="209.5">出口匝道</text>
<text class="rd" x="252" y="228.1">L2</text>
<text class="lb" x="703" y="210.5">入口匝道</text>
<text class="rd" x="710" y="227.7">L1</text>
<text class="lb" x="90" y="355.5">主道匝道合流区域</text>
<text class="lb" x="212.5" y="331.5">出口鼻端</text>
<text class="lb" x="471.5" y="261.5">贯穿车道</text>
<text class="lb" x="432" y="297" style="letter-spacing:8px">高速公路主道</text>
<text class="lb" x="506.5" y="155.5">服务楼</text>
<text class="lb" x="350.5" y="217">加油站</text>
<text class="lb" x="669.5" y="161">二次分流区域</text>
<text class="lb" x="670.5" y="177">转弯半径端头</text>
<text class="lb" x="817" y="205.5">入口鼻端</text>
<text class="lb" x="855.5" y="237">减速车道</text>
<text class="lb" x="838.5" y="341.5">主道匝道分流区域</text></g>
</svg>
</body></html>
